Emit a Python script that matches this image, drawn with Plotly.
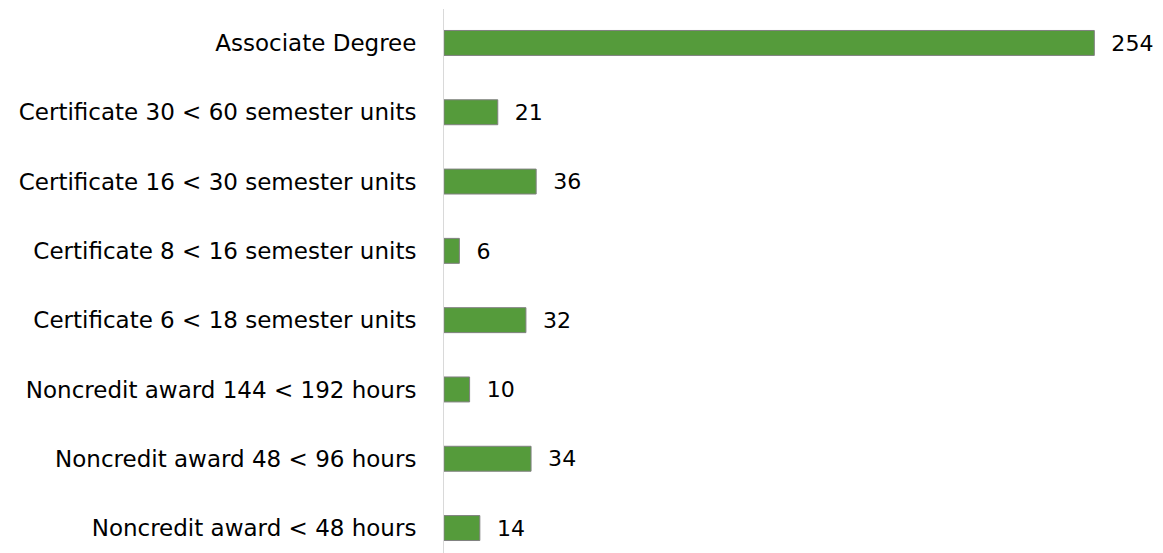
import plotly.graph_objects as go

categories = [
    "Associate Degree",
    "Certificate 30 < 60 semester units",
    "Certificate 16 < 30 semester units",
    "Certificate 8 < 16 semester units",
    "Certificate 6 < 18 semester units",
    "Noncredit award 144 < 192 hours",
    "Noncredit award 48 < 96 hours",
    "Noncredit award < 48 hours",
]
values = [254, 21, 36, 6, 32, 10, 34, 14]

fig = go.Figure(go.Bar(
    x=values,
    y=categories,
    orientation="h",
    width=0.36,
    marker=dict(color="#559B3B", line=dict(color="#808080", width=1)),
    text=["\u00a0\u00a0" + str(v) for v in values],
    textposition="outside",
    textfont=dict(family="DejaVu Sans", size=23, color="#000000"),
    cliponaxis=False,
))

fig.update_layout(
    width=1147, height=545,
    margin=dict(l=436, r=0, t=1, b=0),
    paper_bgcolor="white", plot_bgcolor="white",
    showlegend=False,
    font=dict(family="DejaVu Sans", size=23, color="#000000"),
    xaxis=dict(range=[0, 277.7], showgrid=False, zeroline=False,
               showticklabels=False, showline=False, fixedrange=True),
    yaxis=dict(categoryorder="array", categoryarray=categories,
               range=[7.36, -0.49], showgrid=False, zeroline=False,
               showline=True, linecolor="#D9D9D9", linewidth=1,
               ticks="", ticklabelstandoff=22,
               tickfont=dict(family="DejaVu Sans", size=23, color="#000000")),
)

fig.write_html("out.html")
